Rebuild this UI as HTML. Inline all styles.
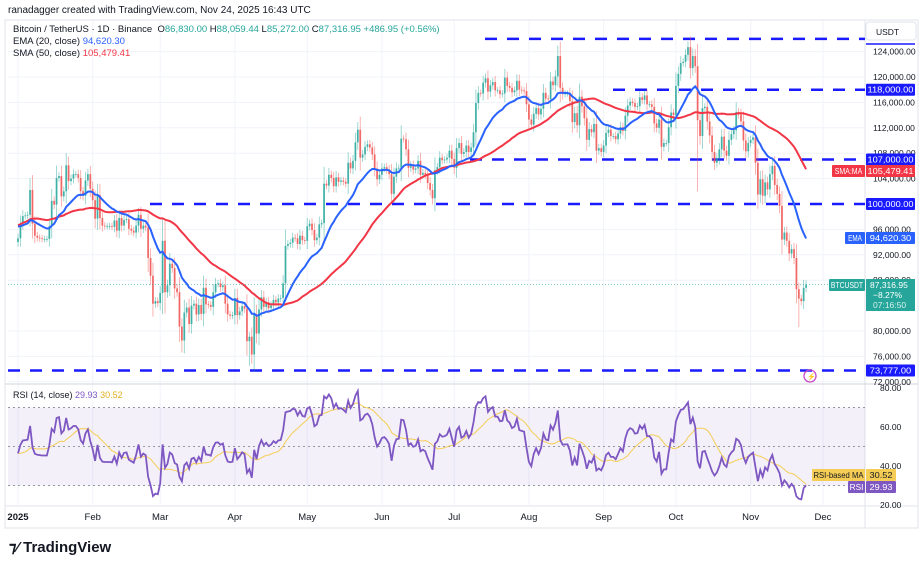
<!DOCTYPE html>
<html><head><meta charset="utf-8"><style>
body{margin:0;background:#fff;width:922px;height:572px;overflow:hidden;font-family:"Liberation Sans",sans-serif}
svg text{font-family:"Liberation Sans",sans-serif}
</style></head><body>
<svg id="c" width="922" height="572" xmlns="http://www.w3.org/2000/svg"></svg>
<script>
// Daily closes (thousands USDT). Pre-history Nov 12 - Dec 31 2024 (not drawn, used for indicators)
const preCloses=[88,90,87,91,90,90,92,94,94,98,98,97,98,93,95,97,96,97,96,97,
95,96,95,98,101,99,100,101,97,101,100,101,101,102,104,106,106,100,97,97,95,94,99,96,98,94,95,95,92,94];
const closes=[
94.6,96.9,98.1,98.2,98.3,102.2,96.9,95.0,94.7,94.6,94.5,94.5,94.5,96.5,100.5,99.9,104.1,104.4,101.2,102.0,106.1,103.6,104.0,104.7,104.7,104.1,102.0,101.3,103.7,104.7,102.4,
100.6,97.7,101.4,97.8,96.6,96.5,96.5,96.5,96.4,97.4,95.8,97.8,96.6,97.5,97.6,96.1,95.8,95.5,96.6,98.3,96.1,96.6,96.3,91.5,88.7,84.3,84.7,84.4,
86.0,94.2,86.1,87.2,90.6,89.9,86.7,86.1,80.7,78.5,82.9,83.7,81.1,84.0,84.3,82.6,84.1,82.7,86.8,84.2,84.1,83.8,86.1,87.4,87.5,86.9,87.2,84.3,82.6,82.4,82.5,
85.2,82.5,83.1,83.9,83.5,78.4,79.1,76.3,82.6,79.6,83.4,85.3,83.8,84.5,83.6,84.0,84.9,84.5,85.1,85.2,87.5,93.4,93.7,93.9,94.7,94.6,93.7,95.0,94.3,94.2,
96.5,96.9,95.9,94.3,94.7,96.8,97.0,103.2,102.9,104.6,104.1,102.8,104.2,103.5,103.7,103.5,103.2,106.5,105.6,106.8,109.7,111.7,107.3,107.8,109.0,109.4,108.9,107.8,105.6,103.9,104.6,
105.6,105.8,105.4,104.7,101.6,104.3,105.6,105.7,110.3,110.2,108.6,105.7,106.1,105.4,105.6,106.8,104.6,104.9,104.6,103.3,102.2,100.9,105.3,105.8,107.3,106.9,107.0,107.3,108.4,107.1,
105.7,108.8,109.6,107.9,108.2,109.2,108.2,108.9,111.3,115.9,117.5,117.4,119.1,119.8,117.7,118.7,119.2,117.9,117.9,117.3,117.4,119.9,118.6,118.3,117.6,117.9,119.4,118.0,117.9,117.8,115.7,
113.3,112.5,114.2,115.1,114.1,115.0,117.5,116.6,116.5,119.3,118.7,120.1,123.3,118.3,117.3,117.4,117.4,116.2,112.9,114.3,112.4,116.9,115.4,113.5,110.1,111.8,111.3,112.6,108.4,108.8,108.2,
109.2,111.2,111.7,110.7,110.7,110.2,111.1,112.1,111.5,113.9,115.5,116.1,115.9,115.3,115.4,116.8,116.4,117.1,115.7,115.7,115.3,112.7,112.0,113.3,109.0,109.6,109.6,112.1,114.4,114.0,
118.6,120.5,122.2,122.4,123.5,124.7,121.4,123.3,121.7,113.2,110.7,115.1,115.3,113.0,110.8,108.2,106.5,107.2,108.6,110.6,108.4,107.6,110.1,111.0,111.6,114.5,114.1,113.0,110.0,108.3,109.6,
110.1,110.5,106.5,101.5,103.9,101.3,103.4,102.3,104.7,106.0,103.0,101.6,99.7,94.4,95.5,94.2,92.2,92.9,91.5,86.6,85.1,84.7,86.8,87.3];
// extreme wick lows (index -> low, thousands)
const lowIdx=[68,96,282,324];
const lowVals=[76.6,74.5,102.0,80.6];
const priceTicks=[124,120,116,112,108,104,96,92,88,80,76,72];
const levelVals=[126,118,107,100,73.777];
const levelLabels=["","118,000.00","107,000.00","100,000.00","73,777.00"];
const levelStartX=[485,613,470,150,8];
const rsiTicks=[80,60,40,20];
const monthLabels=["2025","Feb","Mar","Apr","May","Jun","Jul","Aug","Sep","Oct","Nov","Dec"];
const monthDays=[0,31,59,90,120,151,181,212,243,273,304,334];

const S=document.getElementById('c'),NS='http://www.w3.org/2000/svg';
function el(t,a,p){const e=document.createElementNS(NS,t);for(const k in a)e.setAttribute(k,a[k]);(p||S).appendChild(e);return e;}
const X=i=>18+i*2.41, YP=p=>331-(p-80)*6.35, YR=r=>505-(r-20)*1.95;
const PL=8,PR=865;

priceTicks.forEach(p=>{el('line',{x1:PL,x2:PR,y1:YP(p),y2:YP(p),stroke:'#f0f3fa'});});
monthDays.forEach(d=>{el('line',{x1:X(d),x2:X(d),y1:20,y2:505,stroke:'#f0f3fa'});});
el('rect',{x:5,y:20,width:913,height:508,fill:'none',stroke:'#e0e3eb'});
el('line',{x1:PR,x2:PR,y1:20,y2:528,stroke:'#e0e3eb'});
el('line',{x1:5,x2:918,y1:384,y2:384,stroke:'#d1d4dc'});
el('line',{x1:5,x2:918,y1:506,y2:506,stroke:'#e0e3eb'});

el('rect',{x:PL,y:YR(70),width:PR-PL,height:YR(30)-YR(70),fill:'rgba(126,87,194,0.09)'});
[70,50,30].forEach(r=>{el('line',{x1:PL,x2:PR,y1:YR(r),y2:YR(r),stroke:'#9598a1','stroke-dasharray':'2,3'});});

levelVals.forEach((v,k)=>{
 const ln=el('line',{x1:levelStartX[k],x2:PR,y1:YP(v),y2:YP(v),stroke:'#1a1aff','stroke-width':2.5,'stroke-dasharray':'12,10'});
 
 
});

const all=preCloses.concat(closes),off=preCloses.length;
const g=el('g',{});


closes.forEach((c,i)=>{
 const o=all[off+i-1],up=c>=o,col=up?'#26a69a':'#ef5350';
 const d=Math.abs(c-o);
 let hi=Math.max(o,c)+0.5+0.35*d,lo=Math.min(o,c)-0.5-0.35*d;
 const li=lowIdx.indexOf(i); if(li>=0)lo=lowVals[li];
 const x=X(i);
 const w=el('line',{x1:x,x2:x,y1:YP(hi),y2:YP(lo),stroke:col,'stroke-width':0.8,opacity:0.55},g);
 
 const b=el('rect',{x:x-0.9,y:YP(Math.max(o,c)),width:1.8,height:Math.max(0.8,d*6.35),fill:col,opacity:0.8},g);
 
});

const ema=[];let k2=2/21;all.forEach((c,i)=>{ema.push(i?c*k2+ema[i-1]*(1-k2):c);});
const sma=all.map((c,i)=>{const s=all.slice(Math.max(0,i-49),i+1);return s.reduce((a,b)=>a+b,0)/s.length;});
function path(arr,fy,from){let d='';arr.forEach((v,i)=>{if(i<from)return;d+=(d?'L':'M')+X(i-off).toFixed(1)+','+fy(v).toFixed(1);});return d;}
const sl=el('path',{d:path(sma,YP,off),fill:'none',stroke:'#f23645','stroke-width':2});

const elp=el('path',{d:path(ema,YP,off),fill:'none',stroke:'#2962ff','stroke-width':2});


const rsi=[];let ag=0,al=0;
all.forEach((c,i)=>{if(!i){rsi.push(50);return;}const ch=c-all[i-1],gn=Math.max(ch,0),ls=Math.max(-ch,0);
 if(i<=14){ag+=gn/14;al+=ls/14;}else{ag=(ag*13+gn)/14;al=(al*13+ls)/14;}
 rsi.push(al===0?100:100-100/(1+ag/al));});
const rma=rsi.map((v,i)=>{const s=rsi.slice(Math.max(0,i-13),i+1);return s.reduce((a,b)=>a+b,0)/s.length;});
const rm=el('path',{d:path(rma,YR,off),fill:'none',stroke:'#f5cd55','stroke-width':1});

const rl=el('path',{d:path(rsi,YR,off),fill:'none',stroke:'#7e57c2','stroke-width':1.8});


el('line',{x1:PL,x2:PR,y1:YP(87.317),y2:YP(87.317),stroke:'#26a69a','stroke-dasharray':'1,2',opacity:0.6});

function tx(x,y,s,a){const t=el('text',Object.assign({x:x,y:y,'font-size':8.5,fill:'#131722'},a||{}));t.textContent=s;return t;}
priceTicks.forEach(p=>{const t=tx(873,YP(p)+3,p.toLocaleString('en-US')+',000.00');});
rsiTicks.forEach(r=>{const t=tx(880,YR(r)+3,r+'.00');});
monthLabels.forEach((m,i)=>{const t=tx(X(monthDays[i]),520,m,{'text-anchor':'middle','font-size':9.5,'font-weight':i?'normal':'bold'});});

function box(x,y,w,h,fill,s,col){el('rect',{x:x,y:y,width:w,height:h,fill:fill,rx:1});const t=tx(x+w/2,y+h-3,s,{fill:col||'#fff','text-anchor':'middle','font-size':8,textLength:Math.min(w-3,s.length*4.6),lengthAdjust:'spacingAndGlyphs'});return t;}
levelVals.forEach((v,k)=>{if(levelLabels[k]){const t=box(866,YP(v)-6,49,12,'#1a1aff',levelLabels[k]);}});
box(832,165,33,12,'#f23645','SMA:MA');box(866,165,49,12,'#f23645','105,479.41');
box(845,232,20,12,'#2962ff','EMA');box(866,232,49,12,'#2962ff','94,620.30');
box(829,279,36,12,'#26a69a','BTCUSDT');
el('rect',{x:866,y:279,width:49,height:32,fill:'#26a69a'});
tx(870,288,'87,316.95',{fill:'#fff'});tx(873,298,'−8.27%',{fill:'#fff'});tx(873,308,'07:16:50',{fill:'#d8f0ec'});
box(812,469,53,12,'#f5cd55','RSI-based MA','#131722');box(866,469,30,12,'#f5cd55','30.52','#131722');
box(848,481,17,12,'#7e57c2','RSI');box(866,481,30,12,'#7e57c2','29.93');
el('rect',{x:866,y:22,width:50,height:18,fill:'#fff',stroke:'#e0e3eb',rx:3});
tx(876,35,'USDT');
el('line',{x1:866,x2:915,y1:44,y2:44,stroke:'#1a1aff','stroke-width':1.5});
el('circle',{cx:810,cy:376,r:6,fill:'none',stroke:'#c548c8','stroke-width':1.3});
tx(807,379,'⚡',{'font-size':7,fill:'#c548c8'});
</script>
<div style="position:absolute;left:8px;top:5px;font-size:10px;color:#131722">ranadagger created with TradingView.com, Nov 24, 2025 16:43 UTC</div>
<div style="position:absolute;left:13px;top:24px;font-size:9.5px;line-height:12px;color:#131722">
<div>Bitcoin / TetherUS · 1D · Binance &nbsp;O<span style="color:#26a69a">86,830.00</span> H<span style="color:#26a69a">88,059.44</span> L<span style="color:#26a69a">85,272.00</span> C<span style="color:#26a69a">87,316.95</span> <span style="color:#26a69a">+486.95 (+0.56%)</span></div>
<div>EMA (20, close) <span style="color:#2962ff">94,620.30</span></div>
<div>SMA (50, close) <span style="color:#f23645">105,479.41</span></div>
</div>
<div style="position:absolute;left:13px;top:390px;font-size:9px;color:#131722">RSI (14, close) <span style="color:#7e57c2">29.93</span> <span style="color:#e0b020">30.52</span></div>
<div style="position:absolute;left:9px;top:538px;font-size:15px;font-weight:bold;color:#131722">⁊⁄ TradingView</div>
</body></html>
